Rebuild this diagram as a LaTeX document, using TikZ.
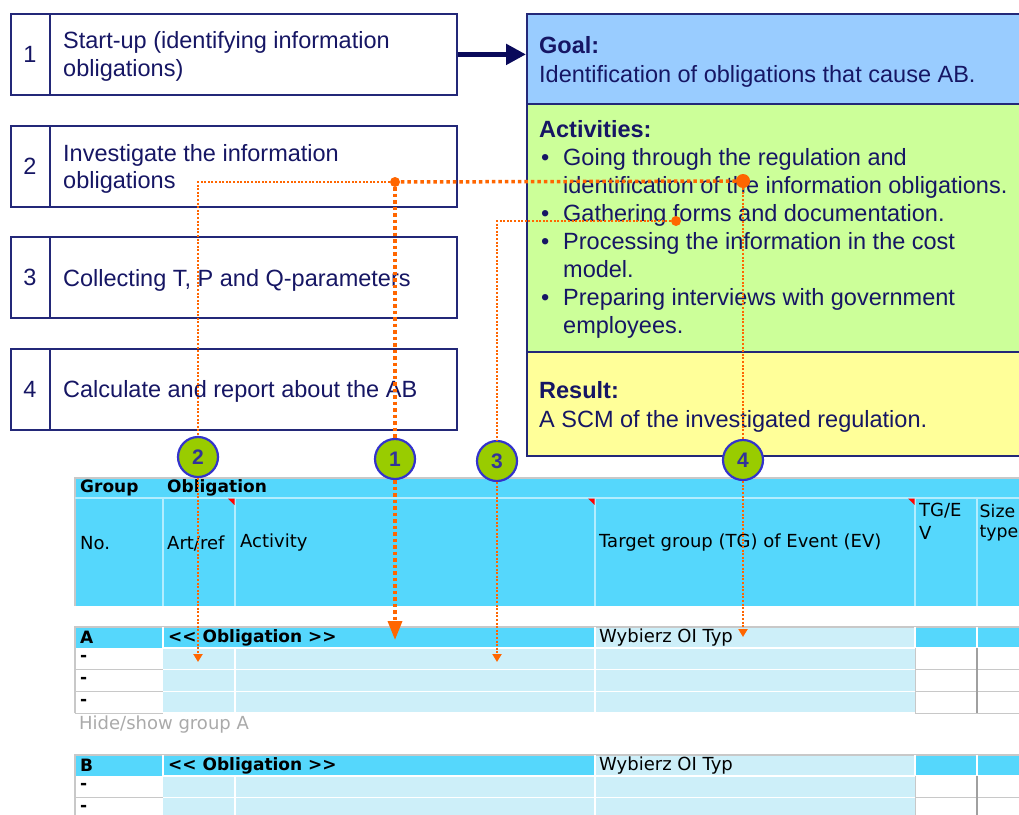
\documentclass[tikz,border=0pt]{standalone}
\usepackage{fontspec}
\setmainfont{Liberation Sans}
\newfontfamily\tabfont{DejaVu Sans}
\usetikzlibrary{arrows.meta}
\definecolor{navytext}{RGB}{22,22,100}
\definecolor{boxline}{RGB}{35,40,120}
\definecolor{arrownavy}{RGB}{10,10,90}
\definecolor{goalfill}{RGB}{153,204,255}
\definecolor{actfill}{RGB}{204,255,153}
\definecolor{resfill}{RGB}{255,255,153}
\definecolor{orng}{RGB}{255,102,0}
\definecolor{cgreen}{RGB}{153,204,0}
\definecolor{cblue}{RGB}{51,51,204}
\definecolor{cnum}{RGB}{51,51,153}
\definecolor{hcyan}{RGB}{85,215,252}
\definecolor{lcyan}{RGB}{205,239,249}
\definecolor{gline}{RGB}{200,200,200}
\definecolor{hidegray}{RGB}{170,170,170}
\definecolor{redmark}{RGB}{255,0,0}
\tikzset{
 lbox/.style={draw=boxline, line width=1.8pt, fill=white, minimum width=446pt, minimum height=81pt, anchor=north west, inner sep=0pt},
 lnum/.style={font=\fontsize{23.5}{28}\selectfont, text=navytext, inner sep=0pt},
 ltxt/.style={font=\fontsize{23.5}{28}\selectfont, text=navytext, inner sep=0pt, anchor=base west},
 lbold/.style={ltxt, font=\bfseries\fontsize{23.5}{28}\selectfont},
 panel/.style={draw=boxline, line width=1.8pt, anchor=north west, inner sep=0pt, minimum width=510pt},
 ttxt/.style={font=\tabfont\fontsize{18}{20}\selectfont, inner sep=0pt, anchor=west, text=black},
 tsmall/.style={ttxt, font=\tabfont\fontsize{17.3}{20}\selectfont},
 tbold/.style={ttxt, font=\tabfont\bfseries\fontsize{17}{20}\selectfont},
 thinlink/.style={draw=orng, line width=2pt, dash pattern=on 2pt off 1.6pt},
 thicklink/.style={draw=orng, line width=3.5pt, dash pattern=on 3.5pt off 3pt},
 smalltip/.style={-{Triangle[length=8pt,width=9pt]}},
 bigtip/.style={-{Triangle[length=19pt,width=14pt]}},
 marker/.style={circle, fill=cgreen, draw=cblue, line width=2.2pt, minimum size=40pt, inner sep=0pt, font=\bfseries\fontsize{21}{21}\selectfont, text=cnum},
 odot/.style={circle, fill=orng, inner sep=0pt},
 wline/.style={draw=white, line width=1.5pt},
 hline/.style={draw=white!55!hcyan, line width=1.2pt},
 gl/.style={draw=gline, line width=1.2pt},
}
\begin{document}
\begin{tikzpicture}[x=1pt,y=-1pt]
\useasboundingbox (0,0) rectangle (1019,814);
\clip (0,0) rectangle (1019,814);

% ---------- left step boxes ----------
\node[lbox] (b1) at (10,13) {};
\node[lbox] (b2) at (10,125) {};
\node[lbox] (b3) at (10,236) {};
\node[lbox] (b4) at (10,348) {};
\foreach \b in {b1,b2,b3,b4}{
  \draw[draw=boxline, line width=1.8pt] ([xshift=40pt]\b.north west) -- ([xshift=40pt]\b.south west);
}
\node[lnum] (n1) at ([xshift=20pt]b1.west) {1};
\node[lnum] (n2) at ([xshift=20pt]b2.west) {2};
\node[lnum] (n3) at ([xshift=20pt]b3.west) {3};
\node[lnum] (n4) at ([xshift=20pt]b4.west) {4};
\node[ltxt] (t1a) at (63,48) {Start-up (identifying information};
\node[ltxt] (t1b) at (63,76) {obligations)};
\node[ltxt] (t2a) at (63,161) {Investigate the information};
\node[ltxt] (t2b) at (63,188) {obligations};
\node[ltxt] (t3) at (63,286) {Collecting T, P and Q-parameters};
\node[ltxt] (t4) at (63,397) {Calculate and report about the AB};

% ---------- right panel ----------
\node[panel, fill=goalfill, minimum height=90pt] (goal) at (526,13) {};
\node[panel, fill=actfill, minimum height=248pt] (act) at (526,103) {};
\node[panel, fill=resfill, minimum height=104pt] (res) at (526,351) {};
\node[lbold] (gh) at (539,53) {Goal:};
\node[ltxt] (gt) at (539,82) {Identification of obligations that cause AB.};
\node[lbold] (ah) at (539,137) {Activities:};
\foreach \y in {165,221,249,305}{ \node[ltxt] at (541,\y) {•}; }
\node[ltxt] (a1a) at (563,165) {Going through the regulation and};
\node[ltxt] (a1b) at (563,193) {identification of the information obligations.};
\node[ltxt] (a2a) at (563,221) {Gathering forms and documentation.};
\node[ltxt] (a3a) at (563,249) {Processing the information in the cost};
\node[ltxt] (a3b) at (563,277) {model.};
\node[ltxt] (a4a) at (563,305) {Preparing interviews with government};
\node[ltxt] (a4b) at (563,333) {employees.};
\node[lbold] (rh) at (539,398) {Result:};
\node[ltxt] (rt) at (539,427) {A SCM of the investigated regulation.};

\draw[draw=arrownavy, line width=5pt, -{Triangle[length=20pt,width=20pt]}] (b1.east) -- (goal.west |- b1.east);

% ---------- table header ----------
\fill[hcyan] (75,478) rectangle (1025,606);
\draw[gl] (75,606) -- (75,478) -- (1025,478);
\draw[hline] (75,498) -- (1025,498);
\foreach \x in {163,235,595,915,977}{ \draw[hline] (\x,498) -- (\x,606); }
\foreach \x in {235,595,915}{ \fill[redmark] (\x-7,498.5) -- (\x-0.5,498.5) -- (\x-0.5,505) -- cycle; }
\node[tbold] (hg) at (80,488) {Group};
\node[tbold] (ho) at (167,488) {Obligation};
\node[ttxt] (hno) at (80,543) {No.};
\node[ttxt] (har) at (167,543) {Art/ref};
\node[ttxt] (hac) at (240,543) {Activity};
\node[ttxt] (htg) at (599,543) {Target group (TG) of Event (EV)};
\node[ttxt] (htea) at (919,511) {TG/E};
\node[ttxt] (hteb) at (919,533) {V};
\node[tsmall] (hsa) at (979.5,511) {Size};
\node[tsmall] (hsb) at (979.5,533) {type};

% ---------- group rows ----------
\foreach \top/\lab/\last/\nd in {627/A/713/3, 755/B/820/2}{
  \pgfmathsetmacro{\ra}{\top+21}
  \fill[hcyan] (75,\top) rectangle (595,\ra);
  \fill[lcyan] (595,\top) rectangle (915,\ra);
  \fill[hcyan] (915,\top) rectangle (1025,\ra);
  \fill[lcyan] (163,\ra) rectangle (915,\last);
  \draw[gl] (75,\last) -- (75,\top) -- (1025,\top);
  \foreach \x in {163,595,915,977}{ \draw[wline] (\x,\top) -- (\x,\ra); }
  \foreach \x in {235,595}{ \draw[wline] (\x,\ra) -- (\x,\last); }
  \draw[wline] (163,\ra) -- (1025,\ra);
  \foreach \k in {1,2,3}{
    \pgfmathsetmacro{\yy}{\ra+21.7*\k}
    \draw[wline] (163,\yy) -- (915,\yy);
    \draw[gl] (75,\yy) -- (163,\yy);
    \draw[gl] (915,\yy) -- (1025,\yy);
  }
  \foreach \k in {1,...,\nd}{
    \pgfmathsetmacro{\yc}{\ra+21.7*\k-11}
    \node[tbold] at (80,\yc) {-};
  }
  \draw[draw=gline, line width=0.8pt] (915,\ra) -- (915,\last);
  \draw[draw=gline!80!black, line width=2pt] (977,\ra) -- (977,\last);
  \node[tbold] at (80,\top+10.5) {\lab};
  \node[tbold] at (168,\top+10.5) {<< Obligation >>};
  \node[ttxt] at (599,\top+10.5) {Wybierz OI Typ};
}
\node[ttxt, text=hidegray] (hide) at (79,725) {Hide/show group A};

% ---------- markers and orange links ----------
\node[odot, minimum size=10pt] (dot1) at (395,182) {};
\node[odot, minimum size=14pt] (dot4) at (743,181) {};
\node[odot, minimum size=10pt] (dot3) at (676,221) {};
\node[marker] (m2) at (198,457) {2};
\node[marker] (m1) at (395,459) {1};
\node[marker] (m3) at (497,461) {3};
\node[marker] (m4) at (743,460) {4};
\coordinate (e1) at (395,640);
\coordinate (e2) at (198,662);
\coordinate (e3) at (497,662);
\coordinate (e4) at (743,637);

\draw[thicklink] (dot4) -- (dot1);
\draw[thicklink] (dot1) -- (m1);
\draw[thicklink, bigtip] (m1) -- (e1);
\draw[thinlink] (dot1) -| (m2);
\draw[thinlink, smalltip] (m2) -- (e2);
\draw[thinlink] (dot3) -| (m3);
\draw[thinlink, smalltip] (m3) -- (e3);
\draw[thinlink] (dot4) -- (m4);
\draw[thinlink, smalltip] (m4) -- (e4);
\end{tikzpicture}
\end{document}
